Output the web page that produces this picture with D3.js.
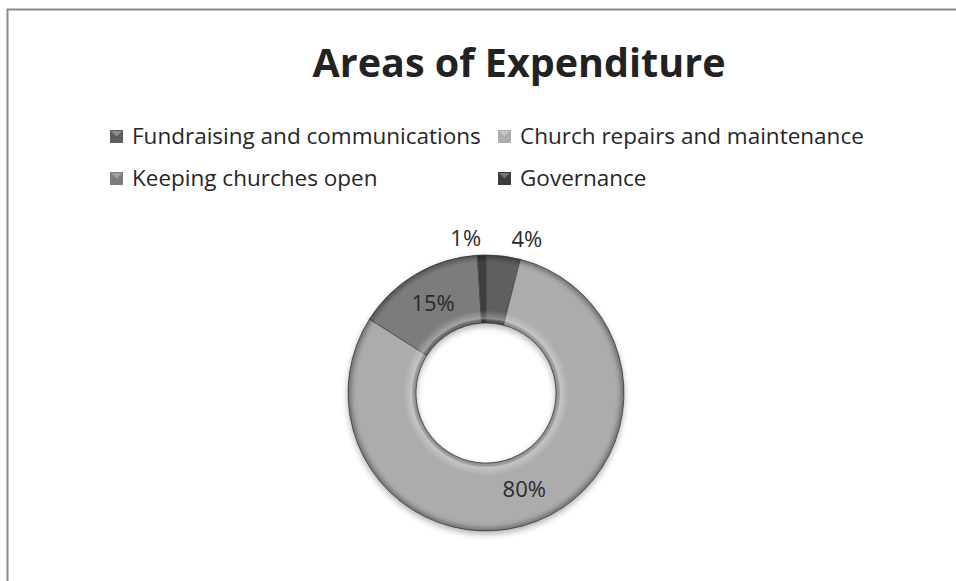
<!DOCTYPE html>
<html>
<head>
<meta charset="utf-8">
<script src="https://cdn.jsdelivr.net/npm/d3@7/dist/d3.min.js"></script>
<style>
  body { margin: 0; background: #fff; }
  svg { display: block; font-family: "Open Sans", "DejaVu Sans", sans-serif; }
</style>
</head>
<body>
<div id="chart"></div>
<script>
// chart data
var categories = ["Fundraising and communications", "Church repairs and maintenance", "Keeping churches open", "Governance"];
var values = [4, 80, 15, 1];
var labels = ["4%", "80%", "15%", "1%"];
var colors = ["#5e5e5e", "#acacac", "#7c7c7c", "#3c3c3c"];

var width = 956, height = 581;

var svg = d3.select("#chart")
  .append("svg")
    .attr("width", width)
    .attr("height", height);

var defs = svg.append("defs");

// frame of the chart area (runs off the page on right and bottom)
svg.append("rect")
  .attr("x", 7.5).attr("y", 9.5)
  .attr("width", 1000).attr("height", 700)
  .attr("fill", "none")
  .attr("stroke", "#8a8a8a")
  .attr("stroke-width", 2);

// title
svg.append("text")
  .attr("x", 519).attr("y", 77)
  .attr("text-anchor", "middle")
  .attr("font-size", 39.5)
  .attr("font-weight", "bold")
  .attr("fill", "#222")
  .text("Areas of Expenditure");

// legend, clipped at the right like the original
defs.append("clipPath").attr("id", "legclip")
  .append("rect").attr("x", 0).attr("y", 110).attr("width", 870).attr("height", 100);

var legend = svg.append("g").attr("clip-path", "url(#legclip)");
var legX = [110, 498], legY = [136, 178];

var item = legend.selectAll("g.item")
  .data(categories)
  .enter().append("g")
    .attr("class", "item")
    .attr("transform", function(d, i) {
      return "translate(" + legX[i % 2] + "," + legY[Math.floor(i / 2)] + ")";
    });

item.append("rect")
  .attr("x", 0).attr("y", -6)
  .attr("width", 13).attr("height", 13)
  .attr("fill", function(d, i) { return colors[i]; });

// little bevel triangle on the marker
item.append("path")
  .attr("d", "M1,-5 L12,-5 L6.5,0.5 Z")
  .attr("fill", "rgba(255,255,255,0.3)");

item.append("text")
  .attr("x", 22).attr("y", 0)
  .attr("dy", "0.35em")
  .attr("font-size", 22.5)
  .attr("fill", "#262626")
  .text(function(d) { return d; });

// doughnut
var cx = 486, cy = 393, rOuter = 138, rInner = 70;

var pie = d3.pie().sort(null).value(function(d) { return d; });
var arcs = pie(values);

var arc = d3.arc().innerRadius(rInner).outerRadius(rOuter);
var labelArc = d3.arc().innerRadius(155).outerRadius(155);

// soft shadow below
var shadow = defs.append("filter").attr("id", "shadow")
  .attr("x", "-20%").attr("y", "-20%").attr("width", "140%").attr("height", "140%");
shadow.append("feGaussianBlur").attr("in", "SourceAlpha").attr("stdDeviation", 3);
shadow.append("feOffset").attr("dx", 0).attr("dy", 3).attr("result", "off");
shadow.append("feComponentTransfer").append("feFuncA").attr("type", "linear").attr("slope", 0.3);
var merge = shadow.append("feMerge");
merge.append("feMergeNode");
merge.append("feMergeNode").attr("in", "SourceGraphic");

// bevel shading over the ring (local coords, centre at 0,0)
var grad = defs.append("radialGradient").attr("id", "bevel")
  .attr("gradientUnits", "userSpaceOnUse")
  .attr("cx", 0).attr("cy", 0).attr("r", rOuter);
[[0.50, "#000", 0.35], [0.52, "#000", 0.12], [0.54, "#fff", 0.3], [0.60, "#fff", 0],
 [0.92, "#fff", 0], [0.96, "#000", 0.06], [1.0, "#000", 0.35]].forEach(function(s) {
  grad.append("stop").attr("offset", s[0]).attr("stop-color", s[1]).attr("stop-opacity", s[2]);
});

var donut = svg.append("g").attr("transform", "translate(" + cx + "," + cy + ")");

donut.append("g").attr("filter", "url(#shadow)")
  .selectAll("path")
  .data(arcs)
  .enter().append("path")
    .attr("d", arc)
    .attr("fill", function(d, i) { return colors[i]; })
    .attr("stroke", "#4a4a4a")
    .attr("stroke-width", 0.8);

donut.append("g")
  .selectAll("path")
  .data(arcs)
  .enter().append("path")
    .attr("d", arc)
    .attr("fill", "url(#bevel)");

// data labels: inside the ring, small slices pushed outside
donut.append("g")
  .selectAll("text")
  .data(arcs)
  .enter().append("text")
    .attr("font-size", 22)
    .attr("fill", "#2a2a2a")
    .attr("dy", "0.35em")
    .attr("text-anchor", function(d) {
      if (d.value >= 5) return "middle";
      var mid = (d.startAngle + d.endAngle) / 2;
      return Math.sin(mid) > 0 ? "start" : "end";
    })
    .attr("transform", function(d) {
      var p = d.value >= 5 ? arc.centroid(d) : labelArc.centroid(d);
      if (d.value < 5) {
        var mid = (d.startAngle + d.endAngle) / 2;
        p[0] += Math.sin(mid) > 0 ? 6 : 0;
      }
      return "translate(" + p + ")";
    })
    .text(function(d, i) { return labels[i]; });
</script>
</body>
</html>
